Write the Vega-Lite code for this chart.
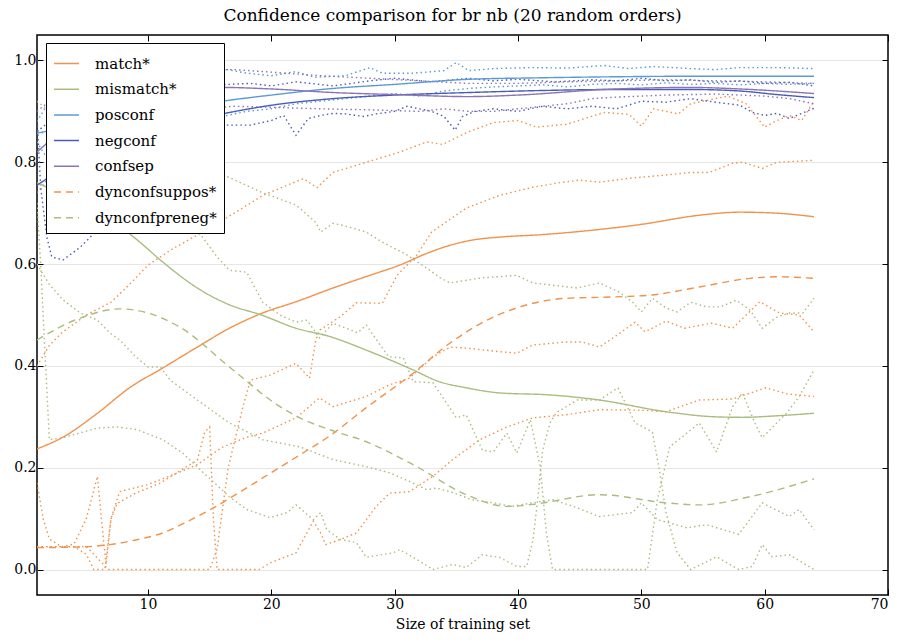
{
"$schema": "https://vega.github.io/schema/vega-lite/v6.json",
"width": 851, "height": 560,
"autosize": {"type": "none"},
"padding": {"left": 37, "top": 35, "right": 18, "bottom": 49},
"background": "white",
"title": {"text": "Confidence comparison for br nb (20 random orders)", "font": "DejaVu Serif", "fontSize": 17, "fontWeight": "normal", "color": "black", "offset": 10, "anchor": "middle", "dx": -10},
"config": {"view": {"stroke": "black", "strokeWidth": 1.5}},
"datasets": {
"main": [
{"s":"match*","x":1,"y":0.237},{"s":"match*","x":3.1,"y":0.26},{"s":"match*","x":5.9,"y":0.307},{"s":"match*","x":8.5,"y":0.357},{"s":"match*","x":11.2,"y":0.396},{"s":"match*","x":14,"y":0.437},{"s":"match*","x":16.6,"y":0.474},{"s":"match*","x":19.3,"y":0.504},{"s":"match*","x":22,"y":0.526},{"s":"match*","x":25,"y":0.553},{"s":"match*","x":28,"y":0.578},{"s":"match*","x":30.4,"y":0.598},{"s":"match*","x":32.5,"y":0.62},{"s":"match*","x":34.5,"y":0.637},{"s":"match*","x":36.5,"y":0.648},{"s":"match*","x":38.5,"y":0.653},{"s":"match*","x":42,"y":0.658},{"s":"match*","x":46.6,"y":0.668},{"s":"match*","x":50,"y":0.678},{"s":"match*","x":54.7,"y":0.696},{"s":"match*","x":58,"y":0.702},{"s":"match*","x":61,"y":0.7},{"s":"match*","x":64,"y":0.693},
{"s":"mismatch*","x":1,"y":0.76},{"s":"mismatch*","x":4,"y":0.725},{"s":"mismatch*","x":7.2,"y":0.683},{"s":"mismatch*","x":9,"y":0.65},{"s":"mismatch*","x":11.2,"y":0.604},{"s":"mismatch*","x":14,"y":0.553},{"s":"mismatch*","x":16.6,"y":0.52},{"s":"mismatch*","x":19.2,"y":0.5},{"s":"mismatch*","x":22,"y":0.474},{"s":"mismatch*","x":24.7,"y":0.458},{"s":"mismatch*","x":27.7,"y":0.431},{"s":"mismatch*","x":31.5,"y":0.392},{"s":"mismatch*","x":33.5,"y":0.37},{"s":"mismatch*","x":35.8,"y":0.357},{"s":"mismatch*","x":38.5,"y":0.347},{"s":"mismatch*","x":42.6,"y":0.343},{"s":"mismatch*","x":46.6,"y":0.333},{"s":"mismatch*","x":52,"y":0.31},{"s":"mismatch*","x":56,"y":0.3},{"s":"mismatch*","x":58.2,"y":0.299},{"s":"mismatch*","x":61,"y":0.302},{"s":"mismatch*","x":64,"y":0.307},
{"s":"posconf","x":1,"y":0.857},{"s":"posconf","x":4,"y":0.872},{"s":"posconf","x":8,"y":0.89},{"s":"posconf","x":12,"y":0.905},{"s":"posconf","x":16,"y":0.92},{"s":"posconf","x":20,"y":0.932},{"s":"posconf","x":25,"y":0.945},{"s":"posconf","x":30,"y":0.953},{"s":"posconf","x":36,"y":0.963},{"s":"posconf","x":42,"y":0.966},{"s":"posconf","x":48,"y":0.968},{"s":"posconf","x":54,"y":0.969},{"s":"posconf","x":60,"y":0.969},{"s":"posconf","x":64,"y":0.969},
{"s":"negconf","x":1,"y":0.755},{"s":"negconf","x":4,"y":0.8},{"s":"negconf","x":8,"y":0.845},{"s":"negconf","x":12,"y":0.875},{"s":"negconf","x":16,"y":0.895},{"s":"negconf","x":20,"y":0.912},{"s":"negconf","x":25,"y":0.925},{"s":"negconf","x":30,"y":0.932},{"s":"negconf","x":36,"y":0.937},{"s":"negconf","x":42,"y":0.941},{"s":"negconf","x":48,"y":0.943},{"s":"negconf","x":54,"y":0.943},{"s":"negconf","x":58,"y":0.94},{"s":"negconf","x":61,"y":0.933},{"s":"negconf","x":64,"y":0.927},
{"s":"confsep","x":1,"y":0.82},{"s":"confsep","x":4,"y":0.88},{"s":"confsep","x":8,"y":0.922},{"s":"confsep","x":12,"y":0.942},{"s":"confsep","x":16,"y":0.947},{"s":"confsep","x":20,"y":0.944},{"s":"confsep","x":25,"y":0.937},{"s":"confsep","x":30,"y":0.933},{"s":"confsep","x":36,"y":0.929},{"s":"confsep","x":40,"y":0.932},{"s":"confsep","x":47,"y":0.943},{"s":"confsep","x":54,"y":0.947},{"s":"confsep","x":58,"y":0.944},{"s":"confsep","x":64,"y":0.935},
{"s":"dynconfsuppos*","x":1,"y":0.043},{"s":"dynconfsuppos*","x":4,"y":0.044},{"s":"dynconfsuppos*","x":6.9,"y":0.049},{"s":"dynconfsuppos*","x":9,"y":0.058},{"s":"dynconfsuppos*","x":11.2,"y":0.072},{"s":"dynconfsuppos*","x":13,"y":0.092},{"s":"dynconfsuppos*","x":15.3,"y":0.121},{"s":"dynconfsuppos*","x":17.3,"y":0.15},{"s":"dynconfsuppos*","x":19.3,"y":0.18},{"s":"dynconfsuppos*","x":22.3,"y":0.225},{"s":"dynconfsuppos*","x":24.7,"y":0.262},{"s":"dynconfsuppos*","x":27.7,"y":0.318},{"s":"dynconfsuppos*","x":31.2,"y":0.38},{"s":"dynconfsuppos*","x":34.5,"y":0.445},{"s":"dynconfsuppos*","x":37.5,"y":0.49},{"s":"dynconfsuppos*","x":41.2,"y":0.523},{"s":"dynconfsuppos*","x":44,"y":0.533},{"s":"dynconfsuppos*","x":47,"y":0.535},{"s":"dynconfsuppos*","x":50.7,"y":0.539},{"s":"dynconfsuppos*","x":54.7,"y":0.555},{"s":"dynconfsuppos*","x":58.8,"y":0.572},{"s":"dynconfsuppos*","x":61,"y":0.575},{"s":"dynconfsuppos*","x":64,"y":0.572},
{"s":"dynconfpreneg*","x":1,"y":0.451},{"s":"dynconfpreneg*","x":4.5,"y":0.494},{"s":"dynconfpreneg*","x":7.7,"y":0.512},{"s":"dynconfpreneg*","x":9.3,"y":0.508},{"s":"dynconfpreneg*","x":12.6,"y":0.476},{"s":"dynconfpreneg*","x":16.6,"y":0.398},{"s":"dynconfpreneg*","x":20.7,"y":0.32},{"s":"dynconfpreneg*","x":22.3,"y":0.298},{"s":"dynconfpreneg*","x":24.7,"y":0.275},{"s":"dynconfpreneg*","x":27.7,"y":0.251},{"s":"dynconfpreneg*","x":31.8,"y":0.202},{"s":"dynconfpreneg*","x":35.8,"y":0.147},{"s":"dynconfpreneg*","x":39.1,"y":0.124},{"s":"dynconfpreneg*","x":41.2,"y":0.128},{"s":"dynconfpreneg*","x":46.6,"y":0.147},{"s":"dynconfpreneg*","x":52,"y":0.131},{"s":"dynconfpreneg*","x":54.7,"y":0.127},{"s":"dynconfpreneg*","x":58.8,"y":0.143},{"s":"dynconfpreneg*","x":64,"y":0.178}
],
"band": [
{"s":"match*","b":"U","x":1,"y":0.4},{"s":"match*","b":"U","x":2,"y":0.44},{"s":"match*","b":"U","x":3,"y":0.465},{"s":"match*","b":"U","x":5,"y":0.5},{"s":"match*","b":"U","x":7,"y":0.525},{"s":"match*","b":"U","x":8.5,"y":0.56},{"s":"match*","b":"U","x":10,"y":0.598},{"s":"match*","b":"U","x":12,"y":0.63},{"s":"match*","b":"U","x":14,"y":0.657},{"s":"match*","b":"U","x":17,"y":0.7},{"s":"match*","b":"U","x":19.3,"y":0.735},{"s":"match*","b":"U","x":21,"y":0.752},{"s":"match*","b":"U","x":22.6,"y":0.768},{"s":"match*","b":"U","x":23.7,"y":0.75},{"s":"match*","b":"U","x":25,"y":0.78},{"s":"match*","b":"U","x":27.7,"y":0.8},{"s":"match*","b":"U","x":30.4,"y":0.82},{"s":"match*","b":"U","x":32.6,"y":0.84},{"s":"match*","b":"U","x":33.9,"y":0.835},{"s":"match*","b":"U","x":35.8,"y":0.858},{"s":"match*","b":"U","x":38,"y":0.878},{"s":"match*","b":"U","x":40,"y":0.882},{"s":"match*","b":"U","x":41.5,"y":0.869},{"s":"match*","b":"U","x":44,"y":0.875},{"s":"match*","b":"U","x":47,"y":0.898},{"s":"match*","b":"U","x":49,"y":0.894},{"s":"match*","b":"U","x":50,"y":0.871},{"s":"match*","b":"U","x":51,"y":0.905},{"s":"match*","b":"U","x":53,"y":0.895},{"s":"match*","b":"U","x":54,"y":0.915},{"s":"match*","b":"U","x":57,"y":0.93},{"s":"match*","b":"U","x":58.5,"y":0.915},{"s":"match*","b":"U","x":60,"y":0.869},{"s":"match*","b":"U","x":61,"y":0.882},{"s":"match*","b":"U","x":62,"y":0.892},{"s":"match*","b":"U","x":63,"y":0.882},{"s":"match*","b":"U","x":64,"y":0.92},
{"s":"match*","b":"L","x":1,"y":0.17},{"s":"match*","b":"L","x":1.5,"y":0.1},{"s":"match*","b":"L","x":2,"y":0.06},{"s":"match*","b":"L","x":3,"y":0.045},{"s":"match*","b":"L","x":4,"y":0.05},{"s":"match*","b":"L","x":5,"y":0.1},{"s":"match*","b":"L","x":5.9,"y":0.183},{"s":"match*","b":"L","x":6.3,"y":0.08},{"s":"match*","b":"L","x":6.6,"y":0.01},{"s":"match*","b":"L","x":7,"y":0.1},{"s":"match*","b":"L","x":7.7,"y":0.153},{"s":"match*","b":"L","x":10,"y":0.167},{"s":"match*","b":"L","x":12,"y":0.186},{"s":"match*","b":"L","x":14,"y":0.206},{"s":"match*","b":"L","x":16,"y":0.24},{"s":"match*","b":"L","x":18,"y":0.26},{"s":"match*","b":"L","x":19.3,"y":0.268},{"s":"match*","b":"L","x":22,"y":0.298},{"s":"match*","b":"L","x":23.9,"y":0.337},{"s":"match*","b":"L","x":25,"y":0.32},{"s":"match*","b":"L","x":27.7,"y":0.34},{"s":"match*","b":"L","x":29.6,"y":0.363},{"s":"match*","b":"L","x":31.2,"y":0.376},{"s":"match*","b":"L","x":33.1,"y":0.418},{"s":"match*","b":"L","x":34.5,"y":0.437},{"s":"match*","b":"L","x":35.8,"y":0.435},{"s":"match*","b":"L","x":38.5,"y":0.428},{"s":"match*","b":"L","x":39.9,"y":0.425},{"s":"match*","b":"L","x":41.2,"y":0.441},{"s":"match*","b":"L","x":43.9,"y":0.447},{"s":"match*","b":"L","x":45.2,"y":0.447},{"s":"match*","b":"L","x":46.6,"y":0.437},{"s":"match*","b":"L","x":48,"y":0.46},{"s":"match*","b":"L","x":49.5,"y":0.486},{"s":"match*","b":"L","x":50.3,"y":0.467},{"s":"match*","b":"L","x":52,"y":0.488},{"s":"match*","b":"L","x":53.5,"y":0.474},{"s":"match*","b":"L","x":55.7,"y":0.484},{"s":"match*","b":"L","x":57.4,"y":0.474},{"s":"match*","b":"L","x":59.6,"y":0.526},{"s":"match*","b":"L","x":61.2,"y":0.504},{"s":"match*","b":"L","x":62.8,"y":0.5},{"s":"match*","b":"L","x":64,"y":0.467},
{"s":"dynconfsuppos*","b":"U","x":1,"y":0.045},{"s":"dynconfsuppos*","b":"U","x":3,"y":0.045},{"s":"dynconfsuppos*","b":"U","x":5,"y":0.045},{"s":"dynconfsuppos*","b":"U","x":6,"y":0.02},{"s":"dynconfsuppos*","b":"U","x":6.8,"y":0},{"s":"dynconfsuppos*","b":"U","x":10,"y":0},{"s":"dynconfsuppos*","b":"U","x":15,"y":0},{"s":"dynconfsuppos*","b":"U","x":15.6,"y":0.04},{"s":"dynconfsuppos*","b":"U","x":16.5,"y":0.2},{"s":"dynconfsuppos*","b":"U","x":17.7,"y":0.32},{"s":"dynconfsuppos*","b":"U","x":18.3,"y":0.372},{"s":"dynconfsuppos*","b":"U","x":19.9,"y":0.382},{"s":"dynconfsuppos*","b":"U","x":22,"y":0.405},{"s":"dynconfsuppos*","b":"U","x":23.1,"y":0.376},{"s":"dynconfsuppos*","b":"U","x":23.6,"y":0.45},{"s":"dynconfsuppos*","b":"U","x":23.9,"y":0.47},{"s":"dynconfsuppos*","b":"U","x":25.6,"y":0.497},{"s":"dynconfsuppos*","b":"U","x":26.9,"y":0.524},{"s":"dynconfsuppos*","b":"U","x":29,"y":0.523},{"s":"dynconfsuppos*","b":"U","x":30.2,"y":0.578},{"s":"dynconfsuppos*","b":"U","x":31.8,"y":0.618},{"s":"dynconfsuppos*","b":"U","x":33,"y":0.663},{"s":"dynconfsuppos*","b":"U","x":35.8,"y":0.71},{"s":"dynconfsuppos*","b":"U","x":38.5,"y":0.735},{"s":"dynconfsuppos*","b":"U","x":41.2,"y":0.751},{"s":"dynconfsuppos*","b":"U","x":43.4,"y":0.76},{"s":"dynconfsuppos*","b":"U","x":45,"y":0.765},{"s":"dynconfsuppos*","b":"U","x":46.6,"y":0.761},{"s":"dynconfsuppos*","b":"U","x":49.2,"y":0.769},{"s":"dynconfsuppos*","b":"U","x":52,"y":0.775},{"s":"dynconfsuppos*","b":"U","x":54,"y":0.78},{"s":"dynconfsuppos*","b":"U","x":55.5,"y":0.78},{"s":"dynconfsuppos*","b":"U","x":57.4,"y":0.798},{"s":"dynconfsuppos*","b":"U","x":58.2,"y":0.8},{"s":"dynconfsuppos*","b":"U","x":59.8,"y":0.788},{"s":"dynconfsuppos*","b":"U","x":61,"y":0.8},{"s":"dynconfsuppos*","b":"U","x":64,"y":0.804},
{"s":"dynconfsuppos*","b":"L","x":1,"y":0.045},{"s":"dynconfsuppos*","b":"L","x":4,"y":0.045},{"s":"dynconfsuppos*","b":"L","x":5,"y":0.03},{"s":"dynconfsuppos*","b":"L","x":5.6,"y":0},{"s":"dynconfsuppos*","b":"L","x":6.5,"y":0},{"s":"dynconfsuppos*","b":"L","x":7,"y":0.1},{"s":"dynconfsuppos*","b":"L","x":7.5,"y":0.13},{"s":"dynconfsuppos*","b":"L","x":9,"y":0.15},{"s":"dynconfsuppos*","b":"L","x":11,"y":0.17},{"s":"dynconfsuppos*","b":"L","x":13,"y":0.2},{"s":"dynconfsuppos*","b":"L","x":14,"y":0.215},{"s":"dynconfsuppos*","b":"L","x":14.6,"y":0.27},{"s":"dynconfsuppos*","b":"L","x":15,"y":0.28},{"s":"dynconfsuppos*","b":"L","x":15.3,"y":0.1},{"s":"dynconfsuppos*","b":"L","x":15.6,"y":0},{"s":"dynconfsuppos*","b":"L","x":19,"y":0},{"s":"dynconfsuppos*","b":"L","x":20,"y":0.014},{"s":"dynconfsuppos*","b":"L","x":22,"y":0.033},{"s":"dynconfsuppos*","b":"L","x":23.4,"y":0.095},{"s":"dynconfsuppos*","b":"L","x":24,"y":0.072},{"s":"dynconfsuppos*","b":"L","x":24.4,"y":0.049},{"s":"dynconfsuppos*","b":"L","x":25.6,"y":0.059},{"s":"dynconfsuppos*","b":"L","x":26.9,"y":0.072},{"s":"dynconfsuppos*","b":"L","x":28.5,"y":0.124},{"s":"dynconfsuppos*","b":"L","x":29.6,"y":0.15},{"s":"dynconfsuppos*","b":"L","x":31.2,"y":0.153},{"s":"dynconfsuppos*","b":"L","x":33.1,"y":0.183},{"s":"dynconfsuppos*","b":"L","x":34.7,"y":0.216},{"s":"dynconfsuppos*","b":"L","x":36.9,"y":0.255},{"s":"dynconfsuppos*","b":"L","x":39.1,"y":0.28},{"s":"dynconfsuppos*","b":"L","x":41.2,"y":0.298},{"s":"dynconfsuppos*","b":"L","x":43.9,"y":0.304},{"s":"dynconfsuppos*","b":"L","x":46.6,"y":0.314},{"s":"dynconfsuppos*","b":"L","x":50,"y":0.313},{"s":"dynconfsuppos*","b":"L","x":52,"y":0.31},{"s":"dynconfsuppos*","b":"L","x":54.7,"y":0.333},{"s":"dynconfsuppos*","b":"L","x":57.4,"y":0.335},{"s":"dynconfsuppos*","b":"L","x":60.1,"y":0.357},{"s":"dynconfsuppos*","b":"L","x":61.8,"y":0.345},{"s":"dynconfsuppos*","b":"L","x":64,"y":0.34},
{"s":"mismatch*","b":"U","x":1,"y":0.92},{"s":"mismatch*","b":"U","x":3,"y":0.88},{"s":"mismatch*","b":"U","x":6,"y":0.85},{"s":"mismatch*","b":"U","x":9,"y":0.82},{"s":"mismatch*","b":"U","x":12,"y":0.8},{"s":"mismatch*","b":"U","x":15,"y":0.785},{"s":"mismatch*","b":"U","x":16.6,"y":0.77},{"s":"mismatch*","b":"U","x":19.3,"y":0.74},{"s":"mismatch*","b":"U","x":22,"y":0.716},{"s":"mismatch*","b":"U","x":23.6,"y":0.682},{"s":"mismatch*","b":"U","x":24,"y":0.663},{"s":"mismatch*","b":"U","x":25,"y":0.68},{"s":"mismatch*","b":"U","x":25.8,"y":0.676},{"s":"mismatch*","b":"U","x":27.7,"y":0.663},{"s":"mismatch*","b":"U","x":29,"y":0.643},{"s":"mismatch*","b":"U","x":31,"y":0.618},{"s":"mismatch*","b":"U","x":32.6,"y":0.592},{"s":"mismatch*","b":"U","x":33.7,"y":0.573},{"s":"mismatch*","b":"U","x":34.5,"y":0.563},{"s":"mismatch*","b":"U","x":37.1,"y":0.573},{"s":"mismatch*","b":"U","x":39.9,"y":0.578},{"s":"mismatch*","b":"U","x":41.2,"y":0.563},{"s":"mismatch*","b":"U","x":42.6,"y":0.559},{"s":"mismatch*","b":"U","x":44.8,"y":0.553},{"s":"mismatch*","b":"U","x":46.6,"y":0.563},{"s":"mismatch*","b":"U","x":48.2,"y":0.545},{"s":"mismatch*","b":"U","x":49.3,"y":0.525},{"s":"mismatch*","b":"U","x":50,"y":0.506},{"s":"mismatch*","b":"U","x":50.9,"y":0.533},{"s":"mismatch*","b":"U","x":52,"y":0.514},{"s":"mismatch*","b":"U","x":52.9,"y":0.506},{"s":"mismatch*","b":"U","x":54,"y":0.525},{"s":"mismatch*","b":"U","x":55.3,"y":0.516},{"s":"mismatch*","b":"U","x":56.4,"y":0.516},{"s":"mismatch*","b":"U","x":57.7,"y":0.529},{"s":"mismatch*","b":"U","x":58.8,"y":0.51},{"s":"mismatch*","b":"U","x":59.8,"y":0.474},{"s":"mismatch*","b":"U","x":61,"y":0.496},{"s":"mismatch*","b":"U","x":62,"y":0.504},{"s":"mismatch*","b":"U","x":63.1,"y":0.504},{"s":"mismatch*","b":"U","x":64,"y":0.533},
{"s":"mismatch*","b":"L","x":1,"y":0.6},{"s":"mismatch*","b":"L","x":2,"y":0.56},{"s":"mismatch*","b":"L","x":3.1,"y":0.53},{"s":"mismatch*","b":"L","x":4.5,"y":0.504},{"s":"mismatch*","b":"L","x":5.9,"y":0.49},{"s":"mismatch*","b":"L","x":6.9,"y":0.465},{"s":"mismatch*","b":"L","x":7.7,"y":0.451},{"s":"mismatch*","b":"L","x":9,"y":0.418},{"s":"mismatch*","b":"L","x":10,"y":0.398},{"s":"mismatch*","b":"L","x":11,"y":0.398},{"s":"mismatch*","b":"L","x":11.8,"y":0.372},{"s":"mismatch*","b":"L","x":14,"y":0.333},{"s":"mismatch*","b":"L","x":16.6,"y":0.288},{"s":"mismatch*","b":"L","x":19.3,"y":0.255},{"s":"mismatch*","b":"L","x":22.3,"y":0.241},{"s":"mismatch*","b":"L","x":25,"y":0.216},{"s":"mismatch*","b":"L","x":27.7,"y":0.202},{"s":"mismatch*","b":"L","x":29.6,"y":0.19},{"s":"mismatch*","b":"L","x":31.2,"y":0.173},{"s":"mismatch*","b":"L","x":32.6,"y":0.157},{"s":"mismatch*","b":"L","x":33.4,"y":0.16},{"s":"mismatch*","b":"L","x":34.5,"y":0.153},{"s":"mismatch*","b":"L","x":36.3,"y":0.137},{"s":"mismatch*","b":"L","x":38,"y":0.131},{"s":"mismatch*","b":"L","x":39.5,"y":0.124},{"s":"mismatch*","b":"L","x":41.2,"y":0.131},{"s":"mismatch*","b":"L","x":42.8,"y":0.137},{"s":"mismatch*","b":"L","x":44.5,"y":0.124},{"s":"mismatch*","b":"L","x":46.6,"y":0.104},{"s":"mismatch*","b":"L","x":49.3,"y":0.112},{"s":"mismatch*","b":"L","x":50,"y":0.131},{"s":"mismatch*","b":"L","x":51.3,"y":0.098},{"s":"mismatch*","b":"L","x":53.7,"y":0.082},{"s":"mismatch*","b":"L","x":55.3,"y":0.088},{"s":"mismatch*","b":"L","x":57.9,"y":0.069},{"s":"mismatch*","b":"L","x":59.8,"y":0.131},{"s":"mismatch*","b":"L","x":62,"y":0.104},{"s":"mismatch*","b":"L","x":62.8,"y":0.118},{"s":"mismatch*","b":"L","x":64,"y":0.078},
{"s":"dynconfpreneg*","b":"U","x":1,"y":0.86},{"s":"dynconfpreneg*","b":"U","x":3,"y":0.85},{"s":"dynconfpreneg*","b":"U","x":6,"y":0.82},{"s":"dynconfpreneg*","b":"U","x":9,"y":0.79},{"s":"dynconfpreneg*","b":"U","x":12,"y":0.74},{"s":"dynconfpreneg*","b":"U","x":13.6,"y":0.68},{"s":"dynconfpreneg*","b":"U","x":15.6,"y":0.614},{"s":"dynconfpreneg*","b":"U","x":16.6,"y":0.588},{"s":"dynconfpreneg*","b":"U","x":18,"y":0.584},{"s":"dynconfpreneg*","b":"U","x":19.3,"y":0.525},{"s":"dynconfpreneg*","b":"U","x":20.7,"y":0.5},{"s":"dynconfpreneg*","b":"U","x":22,"y":0.486},{"s":"dynconfpreneg*","b":"U","x":22.9,"y":0.49},{"s":"dynconfpreneg*","b":"U","x":23.9,"y":0.455},{"s":"dynconfpreneg*","b":"U","x":25,"y":0.484},{"s":"dynconfpreneg*","b":"U","x":27,"y":0.465},{"s":"dynconfpreneg*","b":"U","x":27.7,"y":0.48},{"s":"dynconfpreneg*","b":"U","x":29.5,"y":0.418},{"s":"dynconfpreneg*","b":"U","x":30.7,"y":0.416},{"s":"dynconfpreneg*","b":"U","x":31.5,"y":0.369},{"s":"dynconfpreneg*","b":"U","x":33.1,"y":0.367},{"s":"dynconfpreneg*","b":"U","x":35,"y":0.298},{"s":"dynconfpreneg*","b":"U","x":35.8,"y":0.304},{"s":"dynconfpreneg*","b":"U","x":37.1,"y":0.235},{"s":"dynconfpreneg*","b":"U","x":38,"y":0.231},{"s":"dynconfpreneg*","b":"U","x":39.1,"y":0.268},{"s":"dynconfpreneg*","b":"U","x":39.9,"y":0.229},{"s":"dynconfpreneg*","b":"U","x":41,"y":0.294},{"s":"dynconfpreneg*","b":"U","x":41.8,"y":0.202},{"s":"dynconfpreneg*","b":"U","x":42.3,"y":0.072},{"s":"dynconfpreneg*","b":"U","x":42.8,"y":0},{"s":"dynconfpreneg*","b":"U","x":46,"y":0},{"s":"dynconfpreneg*","b":"U","x":50.5,"y":0},{"s":"dynconfpreneg*","b":"U","x":51.3,"y":0.137},{"s":"dynconfpreneg*","b":"U","x":52.3,"y":0.241},{"s":"dynconfpreneg*","b":"U","x":53.7,"y":0.268},{"s":"dynconfpreneg*","b":"U","x":54.7,"y":0.288},{"s":"dynconfpreneg*","b":"U","x":56.1,"y":0.231},{"s":"dynconfpreneg*","b":"U","x":57.4,"y":0.32},{"s":"dynconfpreneg*","b":"U","x":58.2,"y":0.347},{"s":"dynconfpreneg*","b":"U","x":59.2,"y":0.288},{"s":"dynconfpreneg*","b":"U","x":59.8,"y":0.259},{"s":"dynconfpreneg*","b":"U","x":61.8,"y":0.308},{"s":"dynconfpreneg*","b":"U","x":62.8,"y":0.34},{"s":"dynconfpreneg*","b":"U","x":64,"y":0.392},
{"s":"dynconfpreneg*","b":"L","x":1,"y":0.72},{"s":"dynconfpreneg*","b":"L","x":1.3,"y":0.6},{"s":"dynconfpreneg*","b":"L","x":1.6,"y":0.45},{"s":"dynconfpreneg*","b":"L","x":2,"y":0.255},{"s":"dynconfpreneg*","b":"L","x":3.1,"y":0.259},{"s":"dynconfpreneg*","b":"L","x":5.9,"y":0.278},{"s":"dynconfpreneg*","b":"L","x":7.5,"y":0.28},{"s":"dynconfpreneg*","b":"L","x":9.1,"y":0.275},{"s":"dynconfpreneg*","b":"L","x":11.2,"y":0.255},{"s":"dynconfpreneg*","b":"L","x":12.8,"y":0.229},{"s":"dynconfpreneg*","b":"L","x":14.5,"y":0.19},{"s":"dynconfpreneg*","b":"L","x":16.6,"y":0.143},{"s":"dynconfpreneg*","b":"L","x":18,"y":0.118},{"s":"dynconfpreneg*","b":"L","x":19.9,"y":0.102},{"s":"dynconfpreneg*","b":"L","x":21.3,"y":0.112},{"s":"dynconfpreneg*","b":"L","x":22,"y":0.127},{"s":"dynconfpreneg*","b":"L","x":23.4,"y":0.098},{"s":"dynconfpreneg*","b":"L","x":24,"y":0.112},{"s":"dynconfpreneg*","b":"L","x":24.5,"y":0.078},{"s":"dynconfpreneg*","b":"L","x":25.6,"y":0.059},{"s":"dynconfpreneg*","b":"L","x":26.9,"y":0.053},{"s":"dynconfpreneg*","b":"L","x":27.7,"y":0.024},{"s":"dynconfpreneg*","b":"L","x":29.9,"y":0.033},{"s":"dynconfpreneg*","b":"L","x":30.4,"y":0.039},{"s":"dynconfpreneg*","b":"L","x":31.8,"y":0.02},{"s":"dynconfpreneg*","b":"L","x":33.1,"y":0},{"s":"dynconfpreneg*","b":"L","x":34.7,"y":0.01},{"s":"dynconfpreneg*","b":"L","x":35.8,"y":0.004},{"s":"dynconfpreneg*","b":"L","x":37.1,"y":0.029},{"s":"dynconfpreneg*","b":"L","x":38.5,"y":0.024},{"s":"dynconfpreneg*","b":"L","x":39.9,"y":0.006},{"s":"dynconfpreneg*","b":"L","x":40.7,"y":0.006},{"s":"dynconfpreneg*","b":"L","x":41.2,"y":0.056},{"s":"dynconfpreneg*","b":"L","x":41.6,"y":0.137},{"s":"dynconfpreneg*","b":"L","x":42,"y":0.235},{"s":"dynconfpreneg*","b":"L","x":42.6,"y":0.288},{"s":"dynconfpreneg*","b":"L","x":43.1,"y":0.308},{"s":"dynconfpreneg*","b":"L","x":44.8,"y":0.333},{"s":"dynconfpreneg*","b":"L","x":46.6,"y":0.333},{"s":"dynconfpreneg*","b":"L","x":48.1,"y":0.357},{"s":"dynconfpreneg*","b":"L","x":49.5,"y":0.288},{"s":"dynconfpreneg*","b":"L","x":50.3,"y":0.278},{"s":"dynconfpreneg*","b":"L","x":50.9,"y":0.27},{"s":"dynconfpreneg*","b":"L","x":51.5,"y":0.19},{"s":"dynconfpreneg*","b":"L","x":52,"y":0.112},{"s":"dynconfpreneg*","b":"L","x":52.9,"y":0.033},{"s":"dynconfpreneg*","b":"L","x":54,"y":0},{"s":"dynconfpreneg*","b":"L","x":56.1,"y":0.025},{"s":"dynconfpreneg*","b":"L","x":57.9,"y":0},{"s":"dynconfpreneg*","b":"L","x":59,"y":0.006},{"s":"dynconfpreneg*","b":"L","x":59.8,"y":0.049},{"s":"dynconfpreneg*","b":"L","x":60.6,"y":0.025},{"s":"dynconfpreneg*","b":"L","x":62,"y":0.029},{"s":"dynconfpreneg*","b":"L","x":64,"y":0},
{"s":"posconf","b":"U","x":1,"y":0.88},{"s":"posconf","b":"U","x":2,"y":0.92},{"s":"posconf","b":"U","x":4,"y":0.95},{"s":"posconf","b":"U","x":8,"y":0.97},{"s":"posconf","b":"U","x":12,"y":0.978},{"s":"posconf","b":"U","x":16,"y":0.984},{"s":"posconf","b":"U","x":18,"y":0.975},{"s":"posconf","b":"U","x":20,"y":0.97},{"s":"posconf","b":"U","x":22,"y":0.978},{"s":"posconf","b":"U","x":23.5,"y":0.967},{"s":"posconf","b":"U","x":26,"y":0.97},{"s":"posconf","b":"U","x":28,"y":0.986},{"s":"posconf","b":"U","x":29,"y":0.975},{"s":"posconf","b":"U","x":31.5,"y":0.975},{"s":"posconf","b":"U","x":34,"y":0.98},{"s":"posconf","b":"U","x":35,"y":0.996},{"s":"posconf","b":"U","x":36,"y":0.98},{"s":"posconf","b":"U","x":38,"y":0.984},{"s":"posconf","b":"U","x":41,"y":0.986},{"s":"posconf","b":"U","x":44,"y":0.985},{"s":"posconf","b":"U","x":47,"y":0.99},{"s":"posconf","b":"U","x":49,"y":0.984},{"s":"posconf","b":"U","x":51,"y":0.988},{"s":"posconf","b":"U","x":54,"y":0.984},{"s":"posconf","b":"U","x":56,"y":0.982},{"s":"posconf","b":"U","x":58,"y":0.986},{"s":"posconf","b":"U","x":61,"y":0.986},{"s":"posconf","b":"U","x":64,"y":0.984},
{"s":"posconf","b":"L","x":1,"y":0.84},{"s":"posconf","b":"L","x":2,"y":0.8},{"s":"posconf","b":"L","x":4,"y":0.82},{"s":"posconf","b":"L","x":8,"y":0.85},{"s":"posconf","b":"L","x":12,"y":0.87},{"s":"posconf","b":"L","x":16,"y":0.89},{"s":"posconf","b":"L","x":18,"y":0.9},{"s":"posconf","b":"L","x":20,"y":0.905},{"s":"posconf","b":"L","x":22,"y":0.915},{"s":"posconf","b":"L","x":24,"y":0.92},{"s":"posconf","b":"L","x":26,"y":0.925},{"s":"posconf","b":"L","x":28,"y":0.93},{"s":"posconf","b":"L","x":30,"y":0.935},{"s":"posconf","b":"L","x":32,"y":0.93},{"s":"posconf","b":"L","x":34,"y":0.94},{"s":"posconf","b":"L","x":36,"y":0.945},{"s":"posconf","b":"L","x":38,"y":0.948},{"s":"posconf","b":"L","x":40,"y":0.95},{"s":"posconf","b":"L","x":42,"y":0.952},{"s":"posconf","b":"L","x":44,"y":0.948},{"s":"posconf","b":"L","x":46,"y":0.953},{"s":"posconf","b":"L","x":48,"y":0.955},{"s":"posconf","b":"L","x":50,"y":0.952},{"s":"posconf","b":"L","x":52,"y":0.956},{"s":"posconf","b":"L","x":54,"y":0.953},{"s":"posconf","b":"L","x":56,"y":0.955},{"s":"posconf","b":"L","x":58,"y":0.952},{"s":"posconf","b":"L","x":60,"y":0.955},{"s":"posconf","b":"L","x":62,"y":0.953},{"s":"posconf","b":"L","x":64,"y":0.955},
{"s":"negconf","b":"U","x":1,"y":0.86},{"s":"negconf","b":"U","x":3,"y":0.9},{"s":"negconf","b":"U","x":6,"y":0.93},{"s":"negconf","b":"U","x":10,"y":0.945},{"s":"negconf","b":"U","x":14,"y":0.95},{"s":"negconf","b":"U","x":18.3,"y":0.955},{"s":"negconf","b":"U","x":20,"y":0.95},{"s":"negconf","b":"U","x":22,"y":0.958},{"s":"negconf","b":"U","x":25,"y":0.95},{"s":"negconf","b":"U","x":28,"y":0.96},{"s":"negconf","b":"U","x":30,"y":0.965},{"s":"negconf","b":"U","x":33,"y":0.958},{"s":"negconf","b":"U","x":36,"y":0.965},{"s":"negconf","b":"U","x":38,"y":0.96},{"s":"negconf","b":"U","x":40,"y":0.963},{"s":"negconf","b":"U","x":43,"y":0.958},{"s":"negconf","b":"U","x":46,"y":0.962},{"s":"negconf","b":"U","x":48,"y":0.96},{"s":"negconf","b":"U","x":50,"y":0.965},{"s":"negconf","b":"U","x":52,"y":0.96},{"s":"negconf","b":"U","x":54,"y":0.962},{"s":"negconf","b":"U","x":56,"y":0.957},{"s":"negconf","b":"U","x":58,"y":0.96},{"s":"negconf","b":"U","x":60,"y":0.955},{"s":"negconf","b":"U","x":62,"y":0.957},{"s":"negconf","b":"U","x":64,"y":0.95},
{"s":"negconf","b":"L","x":1,"y":0.89},{"s":"negconf","b":"L","x":1.3,"y":0.75},{"s":"negconf","b":"L","x":1.8,"y":0.653},{"s":"negconf","b":"L","x":2.2,"y":0.614},{"s":"negconf","b":"L","x":3.1,"y":0.608},{"s":"negconf","b":"L","x":4.5,"y":0.633},{"s":"negconf","b":"L","x":5.9,"y":0.667},{"s":"negconf","b":"L","x":7,"y":0.69},{"s":"negconf","b":"L","x":9,"y":0.75},{"s":"negconf","b":"L","x":11,"y":0.8},{"s":"negconf","b":"L","x":13,"y":0.84},{"s":"negconf","b":"L","x":15,"y":0.865},{"s":"negconf","b":"L","x":16.4,"y":0.873},{"s":"negconf","b":"L","x":18.3,"y":0.873},{"s":"negconf","b":"L","x":20,"y":0.882},{"s":"negconf","b":"L","x":21,"y":0.892},{"s":"negconf","b":"L","x":22,"y":0.853},{"s":"negconf","b":"L","x":23,"y":0.886},{"s":"negconf","b":"L","x":24,"y":0.892},{"s":"negconf","b":"L","x":25,"y":0.896},{"s":"negconf","b":"L","x":26,"y":0.895},{"s":"negconf","b":"L","x":27.5,"y":0.89},{"s":"negconf","b":"L","x":28.5,"y":0.895},{"s":"negconf","b":"L","x":30,"y":0.9},{"s":"negconf","b":"L","x":31,"y":0.91},{"s":"negconf","b":"L","x":32,"y":0.905},{"s":"negconf","b":"L","x":33,"y":0.9},{"s":"negconf","b":"L","x":34,"y":0.89},{"s":"negconf","b":"L","x":34.9,"y":0.863},{"s":"negconf","b":"L","x":35.5,"y":0.89},{"s":"negconf","b":"L","x":36.5,"y":0.9},{"s":"negconf","b":"L","x":38,"y":0.905},{"s":"negconf","b":"L","x":40,"y":0.9},{"s":"negconf","b":"L","x":42,"y":0.91},{"s":"negconf","b":"L","x":44,"y":0.905},{"s":"negconf","b":"L","x":46,"y":0.91},{"s":"negconf","b":"L","x":48,"y":0.905},{"s":"negconf","b":"L","x":50,"y":0.92},{"s":"negconf","b":"L","x":52,"y":0.918},{"s":"negconf","b":"L","x":54,"y":0.925},{"s":"negconf","b":"L","x":56,"y":0.918},{"s":"negconf","b":"L","x":58,"y":0.912},{"s":"negconf","b":"L","x":59,"y":0.898},{"s":"negconf","b":"L","x":60,"y":0.892},{"s":"negconf","b":"L","x":61,"y":0.896},{"s":"negconf","b":"L","x":62,"y":0.886},{"s":"negconf","b":"L","x":63,"y":0.896},{"s":"negconf","b":"L","x":64,"y":0.906},
{"s":"confsep","b":"U","x":1,"y":0.9},{"s":"confsep","b":"U","x":3,"y":0.94},{"s":"confsep","b":"U","x":6,"y":0.96},{"s":"confsep","b":"U","x":10,"y":0.975},{"s":"confsep","b":"U","x":14,"y":0.982},{"s":"confsep","b":"U","x":17,"y":0.982},{"s":"confsep","b":"U","x":20,"y":0.977},{"s":"confsep","b":"U","x":24,"y":0.97},{"s":"confsep","b":"U","x":28,"y":0.965},{"s":"confsep","b":"U","x":32,"y":0.96},{"s":"confsep","b":"U","x":36,"y":0.955},{"s":"confsep","b":"U","x":40,"y":0.955},{"s":"confsep","b":"U","x":44,"y":0.958},{"s":"confsep","b":"U","x":48,"y":0.96},{"s":"confsep","b":"U","x":52,"y":0.962},{"s":"confsep","b":"U","x":56,"y":0.96},{"s":"confsep","b":"U","x":60,"y":0.958},{"s":"confsep","b":"U","x":64,"y":0.955},
{"s":"confsep","b":"L","x":1,"y":0.74},{"s":"confsep","b":"L","x":3,"y":0.8},{"s":"confsep","b":"L","x":6,"y":0.86},{"s":"confsep","b":"L","x":10,"y":0.89},{"s":"confsep","b":"L","x":14,"y":0.905},{"s":"confsep","b":"L","x":17,"y":0.91},{"s":"confsep","b":"L","x":20,"y":0.908},{"s":"confsep","b":"L","x":24,"y":0.905},{"s":"confsep","b":"L","x":28,"y":0.903},{"s":"confsep","b":"L","x":32,"y":0.9},{"s":"confsep","b":"L","x":34,"y":0.905},{"s":"confsep","b":"L","x":36,"y":0.9},{"s":"confsep","b":"L","x":38,"y":0.9},{"s":"confsep","b":"L","x":40,"y":0.905},{"s":"confsep","b":"L","x":42,"y":0.91},{"s":"confsep","b":"L","x":44,"y":0.915},{"s":"confsep","b":"L","x":46,"y":0.925},{"s":"confsep","b":"L","x":48,"y":0.928},{"s":"confsep","b":"L","x":50,"y":0.93},{"s":"confsep","b":"L","x":52,"y":0.932},{"s":"confsep","b":"L","x":54,"y":0.933},{"s":"confsep","b":"L","x":56,"y":0.934},{"s":"confsep","b":"L","x":58,"y":0.932},{"s":"confsep","b":"L","x":60,"y":0.93},{"s":"confsep","b":"L","x":62,"y":0.925},{"s":"confsep","b":"L","x":64,"y":0.915}
]
},
"layer": [
{
"data": {"name": "band"},
"mark": {"type": "line", "strokeDash": [1.5, 3], "strokeWidth": 1.4, "interpolate": "linear", "clip": true},
"encoding": {
"x": {"field": "x", "type": "quantitative", "scale": {"domain": [1, 70], "nice": false, "zero": false},
 "axis": {"orient": "bottom", "values": [10,20,30,40,50,60,70], "format": "d", "grid": false, "domain": false, "tickColor": "black", "tickSize": -6, "labelPadding": 8, "labelFont": "DejaVu Serif", "labelFontSize": 14, "labelColor": "black", "title": "Size of training set", "titleFont": "DejaVu Serif", "titleFontSize": 14, "titleFontWeight": "normal", "titleColor": "black", "titlePadding": 6}},
"y": {"field": "y", "type": "quantitative", "scale": {"domain": [-0.05, 1.05], "nice": false, "zero": false},
 "axis": {"orient": "left", "values": [0,0.2,0.4,0.6,0.8,1.0], "format": ".1f", "grid": true, "gridColor": "#e6e6e6", "gridWidth": 1, "domain": false, "tickColor": "black", "tickSize": -6, "labelPadding": 7, "labelFont": "DejaVu Serif", "labelFontSize": 14, "labelColor": "black", "title": null}},
"color": {"field": "s", "type": "nominal", "scale": {"domain": ["match*","mismatch*","posconf","negconf","confsep","dynconfsuppos*","dynconfpreneg*"], "range": ["#f0924a","#a9bd7e","#5b9bd5","#4a5cb8","#8a73b8","#f0924a","#a9bd7e"]}},
"detail": {"field": "b", "type": "nominal"}
}
},
{
"data": {"name": "main"},
"mark": {"type": "line", "strokeWidth": 1.4, "interpolate": "monotone", "clip": true},
"encoding": {
"x": {"field": "x", "type": "quantitative", "axis": {"orient": "top", "values": [10,20,30,40,50,60,70], "labels": false, "grid": false, "domain": false, "tickColor": "black", "tickSize": -6, "title": null}},
"y": {"field": "y", "type": "quantitative", "axis": {"orient": "right", "values": [0,0.2,0.4,0.6,0.8,1.0], "labels": false, "grid": false, "domain": false, "tickColor": "black", "tickSize": -6, "title": null}},
"color": {"field": "s", "type": "nominal", "legend": {"title": null, "orient": "none", "legendX": 9, "legendY": 8, "labelFont": "DejaVu Serif", "labelFontSize": 15, "labelColor": "black", "symbolType": "stroke", "symbolSize": 625, "symbolStrokeWidth": 1.5, "strokeColor": "black", "fillColor": "white", "padding": 7, "rowPadding": 3.7, "labelOffset": 15, "cornerRadius": 0}},
"strokeDash": {"field": "s", "type": "nominal", "scale": {"domain": ["match*","mismatch*","posconf","negconf","confsep","dynconfsuppos*","dynconfpreneg*"], "range": [[1,0],[1,0],[1,0],[1,0],[1,0],[7,5],[7,5]]}, "legend": {"title": null, "orient": "none", "legendX": 9, "legendY": 8, "labelFont": "DejaVu Serif", "labelFontSize": 15, "labelColor": "black", "symbolType": "stroke", "symbolSize": 625, "symbolStrokeWidth": 1.5, "strokeColor": "black", "fillColor": "white", "padding": 7, "rowPadding": 3.7, "labelOffset": 15, "cornerRadius": 0}}
}
}
],
"resolve": {"axis": {"x": "independent", "y": "independent"}}
}
